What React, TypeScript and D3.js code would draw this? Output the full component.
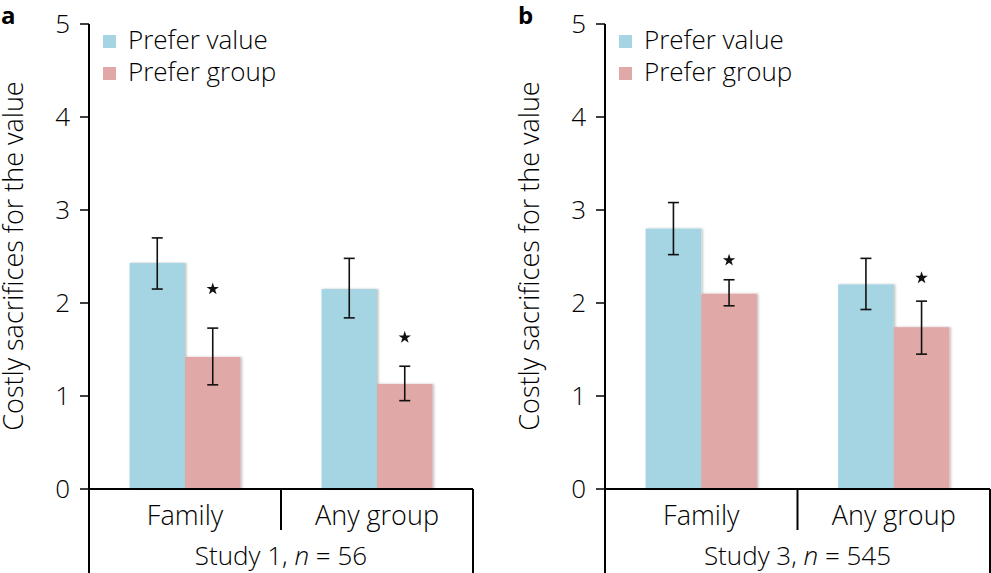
import React from "react";
import * as d3 from "d3";

const categories = ["Family", "Any group"];
const seriesNames = ["Prefer value", "Prefer group"];
const seriesColors = ["#a5d5e3", "#e0a8a6"];
const yTicks = [0, 1, 2, 3, 4, 5];

// Panel a (Study 1, n = 56)
const aValue = [2.43, 2.15];
const aGroup = [1.42, 1.13];
const aValueLo = [2.15, 1.84];
const aValueHi = [2.70, 2.48];
const aGroupLo = [1.12, 0.95];
const aGroupHi = [1.73, 1.32];
const aStars = [2.15, 1.63];

// Panel b (Study 3, n = 545)
const bValue = [2.80, 2.20];
const bGroup = [2.10, 1.74];
const bValueLo = [2.52, 1.93];
const bValueHi = [3.08, 2.48];
const bGroupLo = [1.97, 1.45];
const bGroupHi = [2.25, 2.02];
const bStars = [2.46, 2.27];

const FONT = "'Open Sans', 'DejaVu Sans', sans-serif";
const FS = 26;
const FW = 300;

type PanelProps = {
  letter: string;
  x0: number;
  x1: number;
  letterX: number;
  study: string;
  n: string;
  values: number[][];
  lows: number[][];
  highs: number[][];
  stars: number[];
};

function Panel({ letter, x0, x1, letterX, study, n, values, lows, highs, stars }: PanelProps) {
  const y = d3.scaleLinear().domain([0, 5]).range([489, 24]);
  const x = d3.scaleBand<string>().domain(categories).range([x0, x1]).padding(0);
  const xs = d3
    .scaleBand<string>()
    .domain(seriesNames)
    .range([0, x.bandwidth()])
    .paddingInner(0)
    .paddingOuter(0.73);
  const starPath = d3.symbol(d3.symbolStar, 48)() as string;
  const yBase = y(0);
  const mid = (x0 + x1) / 2;
  const bw = xs.bandwidth();

  return (
    <g>
      <text x={letterX} y={24} fontSize={24} fontWeight="bold" fontFamily={FONT} fill="#000">
        {letter}
      </text>
      {/* y title */}
      <text
        transform={`translate(${x0 - 66},${256}) rotate(-90)`}
        textAnchor="middle"
        fontSize={27}
        fontWeight={FW}
        fontFamily={FONT}
        fill="#000"
      >
        Costly sacrifices for the value
      </text>
      {/* bars */}
      {categories.map((c, ci) =>
        seriesNames.map((s, si) => {
          const v = values[si][ci];
          const bx = (x(c) as number) + (xs(s) as number);
          return (
            <rect
              key={c + s}
              x={bx}
              y={y(v)}
              width={bw}
              height={yBase - y(v)}
              fill={seriesColors[si]}
              filter="url(#shadow)"
            />
          );
        })
      )}
      {/* error bars */}
      {categories.map((c, ci) =>
        seriesNames.map((s, si) => {
          const cx = (x(c) as number) + (xs(s) as number) + bw / 2;
          const lo = y(lows[si][ci]);
          const hi = y(highs[si][ci]);
          return (
            <g key={"e" + c + s} stroke="#111" strokeWidth={1.6}>
              <line x1={cx} x2={cx} y1={hi} y2={lo} />
              <line x1={cx - 5.5} x2={cx + 5.5} y1={hi} y2={hi} />
              <line x1={cx - 5.5} x2={cx + 5.5} y1={lo} y2={lo} />
            </g>
          );
        })
      )}
      {/* significance stars */}
      {categories.map((c, ci) => {
        const cx = (x(c) as number) + (xs(seriesNames[1]) as number) + bw / 2;
        return (
          <path key={"s" + c} d={starPath} transform={`translate(${cx},${y(stars[ci])})`} fill="#111" />
        );
      })}
      {/* y axis */}
      <line x1={x0} x2={x0} y1={y(5)} y2={573} stroke="#000" strokeWidth={2} />
      {yTicks.map((t) => (
        <g key={t}>
          <line x1={x0 - 9} x2={x0} y1={y(t)} y2={y(t)} stroke="#000" strokeWidth={1.5} />
          <text
            x={x0 - 19}
            y={y(t)}
            dy="0.35em"
            textAnchor="end"
            fontSize={FS}
            fontWeight={FW}
            fontFamily={FONT}
            fill="#000"
          >
            {t}
          </text>
        </g>
      ))}
      {/* x axis frame */}
      <line x1={x0} x2={x1} y1={yBase} y2={yBase} stroke="#000" strokeWidth={2} />
      <line x1={x1} x2={x1} y1={yBase} y2={573} stroke="#000" strokeWidth={2} />
      <line x1={mid} x2={mid} y1={yBase} y2={530} stroke="#000" strokeWidth={2} />
      {categories.map((c) => (
        <text
          key={"c" + c}
          x={(x(c) as number) + x.bandwidth() / 2}
          y={525}
          textAnchor="middle"
          fontSize={27}
          fontWeight={FW}
          fontFamily={FONT}
          fill="#000"
        >
          {c}
        </text>
      ))}
      <text x={mid} y={565} textAnchor="middle" fontSize={FS} fontWeight={FW} fontFamily={FONT} fill="#000">
        {study}, <tspan fontStyle="italic">n</tspan> = {n}
      </text>
      {/* legend */}
      {seriesNames.map((s, si) => (
        <g key={"l" + s}>
          <rect x={x0 + 14} y={35 + si * 32} width={13} height={13} fill={seriesColors[si]} />
          <text x={x0 + 39} y={49 + si * 32} fontSize={FS} fontWeight={FW} fontFamily={FONT} fill="#000">
            {s}
          </text>
        </g>
      ))}
    </g>
  );
}

export default function App() {
  return (
    <svg
      width={991}
      height={573}
      viewBox="0 0 991 573"
      style={{ position: "absolute", left: 0, top: 0, background: "#fff" }}
    >
      <defs>
        <filter id="shadow" x="-10%" y="-10%" width="130%" height="120%">
          <feDropShadow dx={1.5} dy={0} stdDeviation={1.2} floodColor="#000" floodOpacity={0.25} />
        </filter>
      </defs>
      <rect x={0} y={0} width={991} height={573} fill="#fff" />
      <Panel
        letter="a"
        x0={89}
        x1={473}
        letterX={1}
        study="Study 1"
        n="56"
        values={[aValue, aGroup]}
        lows={[aValueLo, aGroupLo]}
        highs={[aValueHi, aGroupHi]}
        stars={aStars}
      />
      <Panel
        letter="b"
        x0={605}
        x1={990}
        letterX={518}
        study="Study 3"
        n="545"
        values={[bValue, bGroup]}
        lows={[bValueLo, bGroupLo]}
        highs={[bValueHi, bGroupHi]}
        stars={bStars}
      />
    </svg>
  );
}
